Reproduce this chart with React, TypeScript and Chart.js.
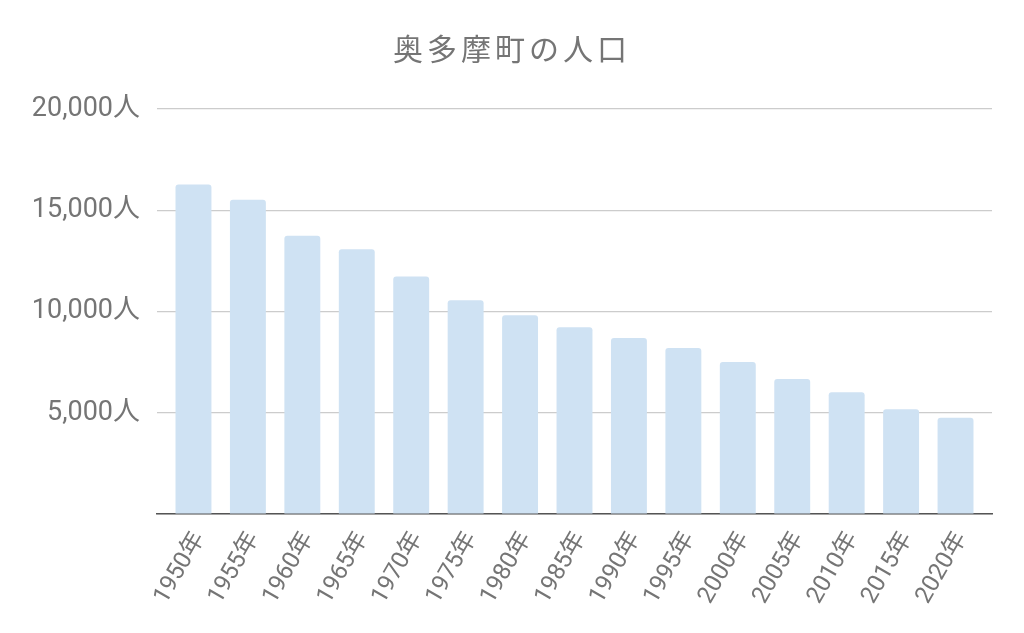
import React, { useEffect, useRef } from 'react';
import { Chart, registerables } from 'chart.js';

Chart.register(...registerables);

const years = ['1950年', '1955年', '1960年', '1965年', '1970年', '1975年', '1980年', '1985年', '1990年', '1995年', '2000年', '2005年', '2010年', '2015年', '2020年'];
const population = [16270, 15520, 13740, 13070, 11730, 10560, 9810, 9220, 8690, 8200, 7510, 6670, 6010, 5170, 4750];
const yTicks = [0, 5000, 10000, 15000, 20000];

const FONT = "Roboto, 'Noto Sans CJK JP', sans-serif";
const GRAY = '#757575';
// extra room (in categories) at both ends of the x axis
const X_EDGE = 0.17;

// spaced-out title letters
const titleSpacing = {
  id: 'titleSpacing',
  afterLayout(chart: any) {
    const t = chart.titleBlock;
    if (!t || t._spaced) return;
    const orig = t.draw.bind(t);
    t.draw = () => {
      chart.ctx.save();
      chart.ctx.letterSpacing = '4px';
      orig();
      chart.ctx.restore();
    };
    t._spaced = true;
  },
};

export default function App() {
  const canvasRef = useRef<HTMLCanvasElement>(null);
  const chartRef = useRef<Chart | null>(null);

  useEffect(() => {
    if (!canvasRef.current) return;
    if (chartRef.current) chartRef.current.destroy();

    chartRef.current = new Chart(canvasRef.current, {
      type: 'bar',
      data: {
        labels: years,
        datasets: [
          {
            label: '人口',
            data: population,
            backgroundColor: '#cfe2f3',
            borderRadius: 3,
            borderSkipped: 'bottom',
            barPercentage: 0.66,
            categoryPercentage: 1,
          },
        ],
      },
      plugins: [titleSpacing],
      options: {
        animation: false,
        responsive: false,
        maintainAspectRatio: false,
        layout: { padding: { top: 0, right: 32, left: 32, bottom: 0 } },
        plugins: {
          legend: { display: false },
          tooltip: { enabled: false },
          title: {
            display: true,
            text: '奥多摩町の人口',
            color: GRAY,
            font: { family: FONT, size: 30, weight: 'normal' },
            padding: { top: 34, bottom: 39 },
          },
        },
        scales: {
          x: {
            grid: { display: false, drawTicks: false },
            border: { display: true, color: '#555555', width: 1.5 },
            ticks: {
              color: GRAY,
              font: { family: FONT, size: 24 },
              minRotation: 60,
              maxRotation: 60,
              padding: 13,
              labelOffset: 6,
              autoSkip: false,
            },
            afterBuildTicks: (scale: any) => {
              scale._startValue -= X_EDGE;
              scale._valueRange += 2 * X_EDGE;
            },
            afterFit: (scale: any) => {
              scale.height = 119;
            },
          },
          y: {
            min: 0,
            max: 20000,
            afterBuildTicks: (scale: any) => {
              scale.ticks = yTicks.map((v) => ({ value: v }));
            },
            grid: { color: '#cccccc', drawTicks: false, lineWidth: 1.2 },
            border: { display: false },
            ticks: {
              color: GRAY,
              font: { family: FONT, size: 27 },
              padding: 17,
              callback: (v: any) => (Number(v) === 0 ? '' : Number(v).toLocaleString('en-US') + '人'),
            },
            afterFit: (scale: any) => {
              scale.width = 125;
            },
          },
        },
      },
    });

    return () => {
      if (chartRef.current) {
        chartRef.current.destroy();
        chartRef.current = null;
      }
    };
  }, []);

  return (
    <div style={{ position: 'absolute', left: 0, top: 0, width: 1024, height: 633, background: '#ffffff' }}>
      <canvas ref={canvasRef} width={1024} height={633} style={{ width: 1024, height: 633 }} />
    </div>
  );
}
